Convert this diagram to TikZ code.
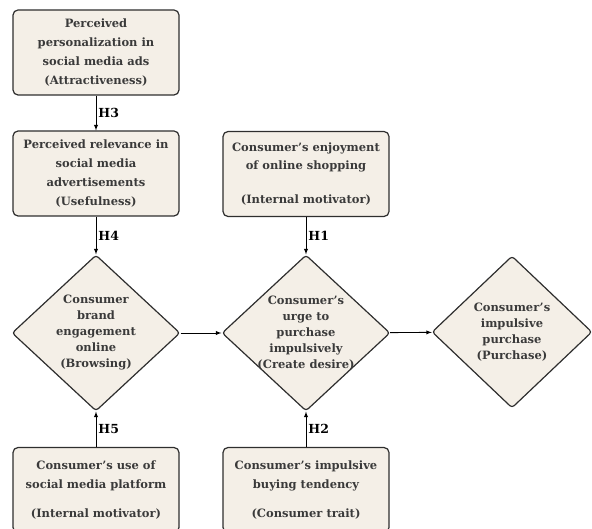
\documentclass[tikz,border=0pt]{standalone}
\usepackage{fontspec}
\setmainfont{DejaVu Serif}
\usetikzlibrary{shapes.geometric}
\definecolor{boxfill}{HTML}{F4EFE7}
\definecolor{boxline}{HTML}{2E2E2E}
\definecolor{txt}{HTML}{3A3A3A}
\tikzset{
  box/.style={draw=boxline, fill=boxfill, line width=1.2pt, rounded corners=5pt,
    minimum width=166pt, minimum height=85pt, align=center, text=txt,
    font=\fontsize{11.5}{18.7}\selectfont\bfseries},
  dia/.style={diamond, draw=boxline, fill=boxfill, line width=1.2pt, rounded corners=3pt,
    minimum width=168pt, minimum height=156pt, inner sep=-14pt, align=center, text=txt,
    font=\fontsize{11.5}{16}\selectfont\bfseries},
  hyp/.style={right, text=black, font=\fontsize{12.5}{13}\selectfont\bfseries, inner sep=2pt},
  arr/.style={->, >=latex, line width=0.9pt, black}
}
\begin{document}
\begin{tikzpicture}[x=1pt,y=-1pt]
\useasboundingbox (0,0) rectangle (592,529);

\node[box] (pers) at (96,52.5) {Perceived\\personalization in\\social media ads\\(Attractiveness)};
\node[box] (relv) at (96,173.5) {Perceived relevance in\\social media\\advertisements\\(Usefulness)};
\node[box] (enjoy) at (306,174) {Consumer's enjoyment\\of online shopping\\[15pt](Internal motivator)};

\node[dia] (brand) at (96,333) {Consumer\\brand\\engagement\\online\\(Browsing)};
\node[dia] (urge) at (306,333) {Consumer's\\urge to\\purchase\\impulsively\\(Create desire)};
\node[dia, minimum width=160pt, minimum height=152pt] (purch) at (512,332) {Consumer's\\impulsive\\purchase\\(Purchase)};

\node[box] (use) at (96,490) {Consumer's use of\\social media platform\\[10pt](Internal motivator)};
\node[box] (trait) at (306,490) {Consumer's impulsive\\buying tendency\\[10pt](Consumer trait)};

\draw[arr] (pers) -- node[hyp]{H3} (relv);
\draw[arr] (relv) -- node[hyp]{H4} (brand);
\draw[arr] (enjoy) -- node[hyp]{H1} (urge);
\draw[arr] (use) -- node[hyp]{H5} (brand);
\draw[arr] (trait) -- node[hyp]{H2} (urge);
\draw[arr] (brand) -- (urge);
\draw[arr] (urge) -- (purch);

\end{tikzpicture}
\end{document}
